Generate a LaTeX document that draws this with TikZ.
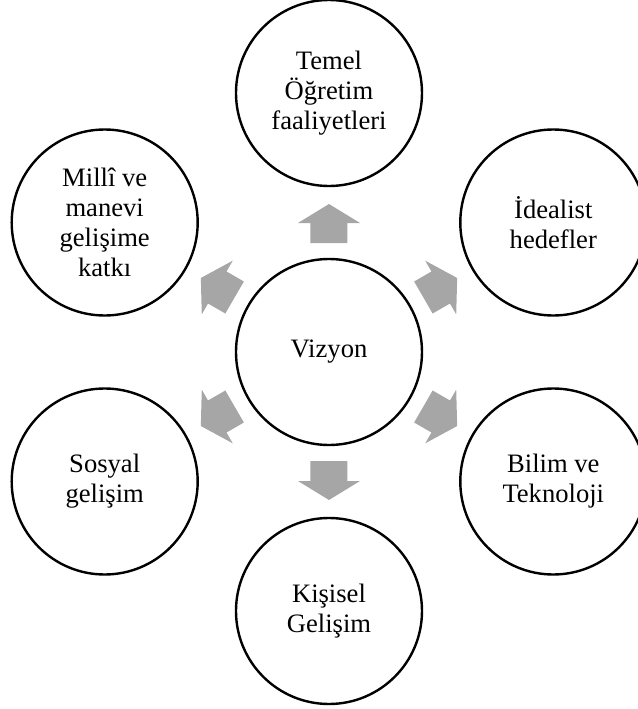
\documentclass[tikz,border=0pt]{standalone}
\usepackage{fontspec}
\setmainfont{Liberation Serif}
\usepackage{tikz}
\definecolor{arrowgray}{RGB}{166,166,166}
\tikzset{
	bubble/.style={circle, draw=black, line width=1.2pt, fill=white, minimum size=93pt, inner sep=0pt, align=center, font=\fontsize{13.3pt}{15pt}\selectfont},
	blockarrow/.style={fill=arrowgray, draw=none}
}

\begin{document}
\begin{tikzpicture}[x=0.5pt, y=0.5pt]
			\useasboundingbox (-329,-357) rectangle (309,352);
			\node[bubble] (vizyon) at (0,0) {Vizyon};
			\node[bubble] (temel) at (90:259) {Temel\\Öğretim\\faaliyetleri};
			\node[bubble] (ideal) at (30:259) {İdealist\\hedefler};
			\node[bubble] (bilim) at (-30:259) {Bilim ve\\Teknoloji};
			\node[bubble] (kisisel) at (-90:259) {Kişisel\\Gelişim};
			\node[bubble] (sosyal) at (-150:259) {Sosyal\\gelişim};
			\node[bubble] (milli) at (150:259) {Millî ve\\manevi\\gelişime\\katkı};
			\foreach \a in {90,30,-30,-90,-150,150}{
				\fill[blockarrow, shift={(vizyon.center)}, rotate=\a] (109,-18.5)--(129,-18.5)--(129,-31)--(148,0)--(129,31)--(129,18.5)--(109,18.5)--cycle;
			}
		\end{tikzpicture}
\end{document}
